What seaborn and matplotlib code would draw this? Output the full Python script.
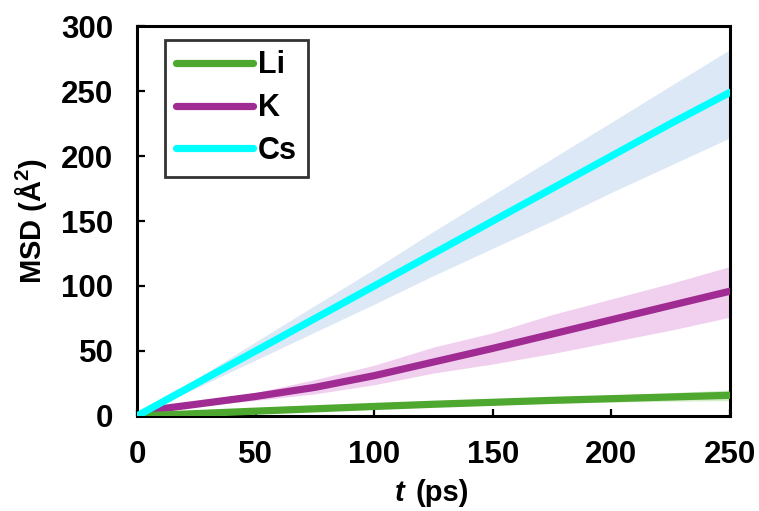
import matplotlib
matplotlib.use("Agg")
import matplotlib.pyplot as plt
from matplotlib.lines import Line2D
import seaborn as sns
import pandas as pd

# ---- data ----
t_ps = [0, 8, 25, 50, 75, 100, 125, 150, 175, 200, 225, 250]

li_mean = [0, 0.6, 1.8, 3.7, 5.5, 7.3, 9.0, 10.5, 12.0, 13.3, 14.6, 15.9]
li_upper = [0, 0.8, 2.3, 4.5, 6.6, 8.6, 10.5, 12.3, 14.2, 16.0, 18.0, 20.0]
li_lower = [0, 0.4, 1.4, 3.0, 4.5, 6.0, 7.5, 8.8, 9.8, 10.7, 11.3, 11.8]

k_mean = [0, 5.0, 9.0, 15.0, 22.0, 31.0, 41.5, 52.0, 63.0, 74.0, 85.0, 96.0]
k_upper = [0, 5.5, 10.5, 18.0, 28.0, 39.0, 53.0, 64.0, 78.0, 90.0, 102.0, 115.0]
k_lower = [0, 4.5, 7.5, 12.0, 17.0, 24.0, 33.0, 40.0, 48.0, 57.0, 66.0, 76.0]

cs_mean = [0, 8, 25, 50, 75, 100, 125, 150, 175, 200, 225, 249]
cs_upper = [0, 9, 28.5, 57, 85, 113, 142, 170, 198, 226, 254, 282]
cs_lower = [0, 7, 21.5, 43, 64.5, 86, 108, 129, 150, 172, 193, 214]

series = ["Li", "K", "Cs"]
line_colors = {"Li": "#4ea72e", "K": "#a02b93", "Cs": "#00ffff"}
band_colors = {"Li": "#d6efcb", "K": "#f0d0ee", "Cs": "#dce8f5"}

means = {"Li": li_mean, "K": k_mean, "Cs": cs_mean}
uppers = {"Li": li_upper, "K": k_upper, "Cs": cs_upper}
lowers = {"Li": li_lower, "K": k_lower, "Cs": cs_lower}

rows = []
for s in series:
    for tt, m in zip(t_ps, means[s]):
        rows.append({"t": tt, "MSD": m, "ion": s})
df = pd.DataFrame(rows)

# ---- style ----
sns.set_style("white")
plt.rcParams["font.family"] = ["Liberation Sans", "DejaVu Sans"]
plt.rcParams["font.weight"] = "bold"
plt.rcParams["axes.labelweight"] = "bold"
plt.rcParams["text.color"] = "black"
plt.rcParams["axes.labelcolor"] = "black"
plt.rcParams["xtick.color"] = "black"
plt.rcParams["ytick.color"] = "black"
plt.rcParams["mathtext.fontset"] = "custom"
plt.rcParams["mathtext.bf"] = "Liberation Sans:bold"
plt.rcParams["mathtext.rm"] = "Liberation Sans:bold"

fig = plt.figure(figsize=(7.59, 5.11), dpi=100)
ax = fig.add_axes([0.1805, 0.186, 0.7813, 0.763])

for s in series:
    ax.fill_between(t_ps, lowers[s], uppers[s], color=band_colors[s],
                    linewidth=0, zorder=1)

sns.lineplot(data=df, x="t", y="MSD", hue="ion", hue_order=["K", "Li", "Cs"],
             palette=line_colors, linewidth=5.2, legend=False, ax=ax,
             zorder=3, solid_capstyle="round")

ax.set_xlim(0, 250)
ax.set_ylim(0, 300)
ax.set_xticks([0, 50, 100, 150, 200, 250])
ax.set_yticks([0, 50, 100, 150, 200, 250, 300])

for sp in ax.spines.values():
    sp.set_visible(True)
    sp.set_color("black")
    sp.set_linewidth(2.2)

ax.tick_params(axis="both", direction="in", length=5, width=1.6,
               color="black", labelcolor="black", labelsize=22.5, pad=17,
               top=False, right=False, bottom=True, left=True)
ax.tick_params(axis="y", length=6)
for lab in ax.get_xticklabels() + ax.get_yticklabels():
    lab.set_fontweight("bold")

ax.set_xlabel("")
fig.text(0.583, 0.035, "(ps)", fontsize=21, fontweight="bold", ha="center", va="center")
fig.text(0.527, 0.035, "t", fontsize=21, fontweight="bold", style="italic",
         ha="center", va="center")
ax.set_ylabel("MSD (Å$^{\\mathbf{2}}$)", fontsize=21, fontweight="bold", labelpad=9)

handles = [Line2D([0], [0], color=line_colors[s], lw=5.2, solid_capstyle="round")
           for s in series]
leg = ax.legend(handles, series, loc="upper left", bbox_to_anchor=(0.047, 0.965),
                frameon=True, fancybox=False, handlelength=2.55, handletextpad=0.15,
                labelspacing=0.42, borderpad=0.35, borderaxespad=0,
                prop={"size": 22, "weight": "bold"})
leg.get_frame().set_edgecolor("black")
leg.get_frame().set_linewidth(2)
for txt in leg.get_texts():
    txt.set_color("black")

fig.savefig("out.png", dpi=100)
